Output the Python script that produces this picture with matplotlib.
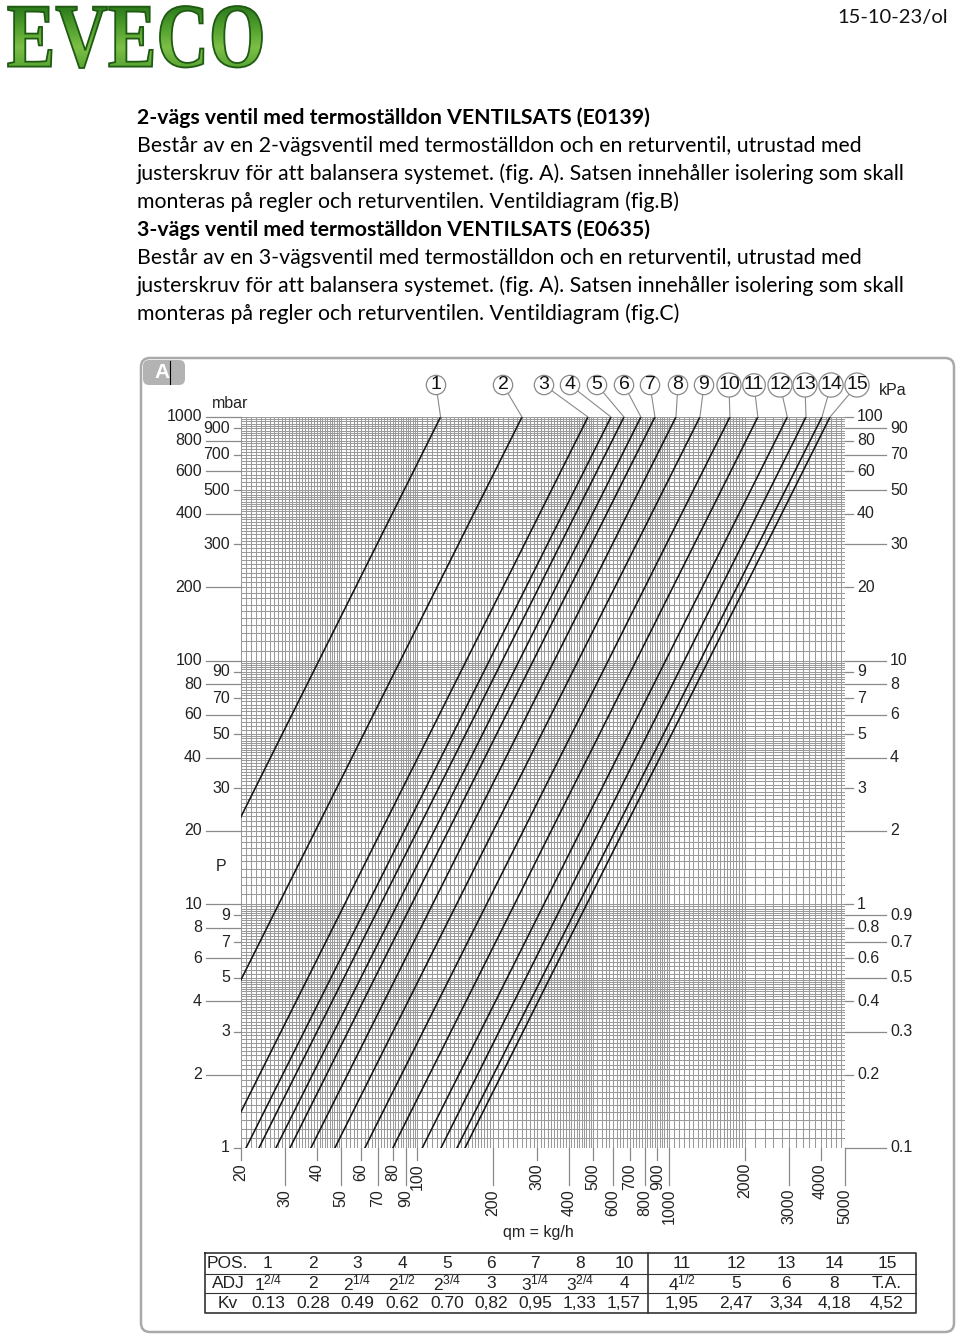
import numpy as np
import matplotlib
matplotlib.use("Agg")
import matplotlib.pyplot as plt
import matplotlib.transforms as mtransforms
from matplotlib.textpath import TextPath
from matplotlib.font_manager import FontProperties
from matplotlib.patches import PathPatch, FancyBboxPatch
from matplotlib.colors import LinearSegmentedColormap

plt.rcParams['font.family'] = ['Liberation Sans', 'DejaVu Sans']
plt.rcParams['mathtext.fontset'] = 'custom'
plt.rcParams['mathtext.rm'] = 'Liberation Sans'
plt.rcParams['mathtext.it'] = 'Liberation Sans'
plt.rcParams['mathtext.bf'] = 'Liberation Sans:bold'

# ---------------- data ----------------
date_text = "15-10-23/ol"
body_lines = [
    ("2-vägs ventil med termoställdon VENTILSATS (E0139)", True),
    ("Består av en 2-vägsventil med termoställdon och en returventil, utrustad med", False),
    ("justerskruv för att balansera systemet. (fig. A). Satsen innehåller isolering som skall", False),
    ("monteras på regler och returventilen. Ventildiagram (fig.B)", False),
    ("3-vägs ventil med termoställdon VENTILSATS (E0635)", True),
    ("Består av en 3-vägsventil med termoställdon och en returventil, utrustad med", False),
    ("justerskruv för att balansera systemet. (fig. A). Satsen innehåller isolering som skall", False),
    ("monteras på regler och returventilen. Ventildiagram (fig.C)", False),
]

# line numbers and flow (kg/h) read where each line meets the 1000 mbar edge
line_ids = ['1', '2', '3', '4', '5', '6', '7', '8', '9', '10', '11', '12', '13', '14', '15']
line_qm_at_1000mbar = [124, 261, 477, 589, 663, 774, 880, 1066, 1327, 1746, 2254, 2950, 3500, 4050, 4360]
line_slope_exponent = 2.07   # dp ~ qm^n, as read from the drawn slope

x_ticks_upper = [20, 40, 60, 80, 100, 300, 500, 700, 900, 2000, 4000]
x_ticks_lower = [30, 50, 70, 90, 200, 400, 600, 800, 1000, 3000, 5000]
mbar_outer = [1000, 800, 600, 400, 200, 100, 80, 60, 40, 20, 10, 8, 6, 4, 2]
mbar_inner = [900, 700, 500, 300, 90, 70, 50, 30, 9, 7, 5, 3, 1]
kpa_inner = [100, 80, 60, 40, 20, 9, 7, 5, 3, 1, 0.8, 0.6, 0.4, 0.2]
kpa_outer = [90, 70, 50, 30, 10, 8, 6, 4, 2, 0.9, 0.7, 0.5, 0.3, 0.1]

table_pos = ['1', '2', '3', '4', '5', '6', '7', '8', '10', '11', '12', '13', '14', '15']
table_adj = [r'$\mathregular{1^{2/4}}$', '2', r'$\mathregular{2^{1/4}}$', r'$\mathregular{2^{1/2}}$',
             r'$\mathregular{2^{3/4}}$', '3', r'$\mathregular{3^{1/4}}$', r'$\mathregular{3^{2/4}}$',
             '4', r'$\mathregular{4^{1/2}}$', '5', '6', '8', 'T.A.']
table_kv = ['0.13', '0.28', '0.49', '0.62', '0.70', '0,82', '0,95', '1,33', '1,57',
            '1,95', '2,47', '3,34', '4,18', '4,52']

# grid subdivisions (start, stop, step)
xgrid_spec = [(20, 50, 1), (50, 100, 2), (100, 200, 5), (200, 500, 10), (500, 1000, 20),
              (1000, 2000, 50), (2000, 5001, 200)]
ygrid_spec = [(1, 5, 0.1), (5, 10, 0.2), (10, 50, 1), (50, 100, 2),
              (100, 500, 10), (500, 1001, 20)]

# ---------------- figure ----------------
W, H = 960, 1336
fig = plt.figure(figsize=(W / 100, H / 100), dpi=100)
fig.patch.set_facecolor('white')
ov = fig.add_axes([0, 0, 1, 1])
ov.set_xlim(0, W)
ov.set_ylim(H, 0)
ov.axis('off')

# logo
tp = TextPath((0, 0), "EVECO", size=100,
              prop=FontProperties(family='Liberation Serif', weight='bold'))
bb = tp.get_extents()
lx0, lx1, ly0, ly1 = 8, 262, 6, 68
sx = (lx1 - lx0) / bb.width
sy = (ly1 - ly0) / bb.height
tr = (mtransforms.Affine2D().translate(-bb.x0, -bb.y0).scale(sx, -sy)
      .translate(lx0, ly1) + ov.transData)
logo_patch = PathPatch(tp, transform=tr, facecolor='none', edgecolor='#1f5a12', lw=1.3, zorder=3)
ov.add_patch(logo_patch)
cmap = LinearSegmentedColormap.from_list('g', ['#2c7a1c', '#4f9e2c', '#7cbf46', '#5aa634'])
grad = np.linspace(0, 1, 64).reshape(-1, 1)
im = ov.imshow(grad, extent=(lx0, lx1, ly1, ly0), cmap=cmap, aspect='auto', zorder=2)
im.set_clip_path(logo_patch)
ov.set_xlim(0, W)
ov.set_ylim(H, 0)

# date
ov.text(948, 17, date_text, ha='right', va='center', fontsize=14.5, family='Lato', color='#111')

# body text, width fitted to the reference line width
renderer = fig.canvas.get_renderer()
probe = ov.text(137, 146, body_lines[1][0], fontsize=14, family='Lato')
wpx = probe.get_window_extent(renderer).width
probe.remove()
body_fs = 14 * (860 - 137) / wpx
for i, (txt, bold) in enumerate(body_lines):
    ov.text(137, 118 + 28 * i, txt, ha='left', va='center', fontsize=body_fs,
            family='Lato', weight='bold' if bold else 'normal', color='black')

# chart frame and tab
ov.add_patch(FancyBboxPatch((141, 358), 813, 974, boxstyle='round,pad=0,rounding_size=9',
                            fc='none', ec='#a9a9a9', lw=1.8))
ov.add_patch(FancyBboxPatch((143, 360), 42, 25, boxstyle='round,pad=0,rounding_size=6',
                            fc='#b3b3b3', ec='none'))
ov.text(162, 373, 'A', ha='center', va='center', color='white', fontsize=15, weight='bold')
ov.plot([170, 170], [361, 384], color='black', lw=0.8)

# ---------------- chart ----------------
left, right, top, bottom = 241, 845, 417, 1148
ax = fig.add_axes([left / W, 1 - bottom / H, (right - left) / W, (bottom - top) / H])
ax.set_xscale('log')
ax.set_yscale('log')
ax.set_xlim(20, 5000)
ax.set_ylim(1, 1000)
for s in ax.spines.values():
    s.set_visible(False)
ax.set_xticks([])
ax.set_yticks([])
ax.minorticks_off()
ax.patch.set_alpha(0)

gc = '#9a9a9a'
vx = np.concatenate([np.arange(a, b, s) for a, b, s in xgrid_spec])
hy = np.concatenate([np.arange(a, b, s) for a, b, s in ygrid_spec])
ax.vlines(vx, 1, 1000, color=gc, lw=0.75, zorder=1)
ax.hlines(hy, 20, 5000, color=gc, lw=0.75, zorder=1)

dp_span = np.array([1.0, 1000.0])
for qm1 in line_qm_at_1000mbar:
    ax.plot(qm1 * (dp_span / 1000.0) ** (1.0 / line_slope_exponent), dp_span,
            color='#151515', lw=1.15, zorder=3)

tc = '#8a8a8a'
lc = '#222222'
fs = 11.5
ylt = ax.get_yaxis_transform()   # x axes-frac, y data
xlt = ax.get_xaxis_transform()   # x data, y axes-frac
pw = right - left
ph = bottom - top

for v in mbar_outer:
    ax.plot([(206 - left) / pw, 0], [v, v], transform=ylt, color=tc, lw=0.9, clip_on=False)
    ax.text((202 - left) / pw, v, f'{v:g}', transform=ylt, ha='right', va='center', fontsize=fs, color=lc)
for v in mbar_inner:
    ax.plot([(234 - left) / pw, 0], [v, v], transform=ylt, color=tc, lw=0.9, clip_on=False)
    ax.text((230 - left) / pw, v, f'{v:g}', transform=ylt, ha='right', va='center', fontsize=fs, color=lc)
for v in kpa_inner:
    ax.plot([1, (853 - left) / pw], [v * 10, v * 10], transform=ylt, color=tc, lw=0.9, clip_on=False)
    ax.text((857 - left) / pw, v * 10, f'{v:g}', transform=ylt, ha='left', va='center', fontsize=fs, color=lc)
for v in kpa_outer:
    ax.plot([1, (886 - left) / pw], [v * 10, v * 10], transform=ylt, color=tc, lw=0.9, clip_on=False)
    ax.text((890 - left) / pw, v * 10, f'{v:g}', transform=ylt, ha='left', va='center', fontsize=fs, color=lc)

for v in x_ticks_upper:
    ax.plot([v, v], [0, -(1160 - bottom) / ph], transform=xlt, color=tc, lw=0.9, clip_on=False)
    ax.text(v, -(1163 - bottom) / ph, f'{v}', transform=xlt, rotation=90, ha='center', va='top',
            fontsize=fs, color=lc)
for v in x_ticks_lower:
    ax.plot([v, v], [0, -(1185 - bottom) / ph], transform=xlt, color=tc, lw=0.9, clip_on=False)
    ax.text(v, -(1189 - bottom) / ph, f'{v}', transform=xlt, rotation=90, ha='center', va='top',
            fontsize=fs, color=lc)

ax.text((230 - left) / pw, (bottom - 403) / ph, 'mbar', transform=ax.transAxes, ha='center',
        va='center', fontsize=fs, color=lc)
ax.text((221 - left) / pw, (bottom - 867) / ph, 'P', transform=ax.transAxes, ha='center',
        va='center', fontsize=fs, color=lc)
ax.text((893 - left) / pw, (bottom - 391) / ph, 'kPa', transform=ax.transAxes, ha='center',
        va='center', fontsize=fs, color=lc)
ax.text((538 - left) / pw, (bottom - 1232) / ph, 'qm = kg/h', transform=ax.transAxes, ha='center',
        va='center', fontsize=fs, color=lc)

# numbered callouts
circle_px = [436, 503, 544, 570, 597, 624, 650, 678, 704, 729, 754, 780, 805, 831, 857]
for lid, qm1, cx in zip(line_ids, line_qm_at_1000mbar, circle_px):
    ax.annotate(lid, xy=(qm1, 1000), xycoords='data',
                xytext=((cx - left) / pw, (bottom - 385) / ph), textcoords='axes fraction',
                ha='center', va='center', fontsize=14, color='#111',
                bbox=dict(boxstyle='circle,pad=0.06', fc='white', ec='#8a8a8a', lw=0.9),
                arrowprops=dict(arrowstyle='-', color='#8a8a8a', lw=0.8, shrinkA=0, shrinkB=0),
                annotation_clip=False, zorder=4)

# ---------------- table ----------------
tx0, tx1, ty0, ty1 = 205, 916, 1253, 1313
ov.plot([tx0, tx1, tx1, tx0, tx0], [ty0, ty0, ty1, ty1, ty0], color='#333', lw=1.2)
ov.plot([tx0, tx1], [1274, 1274], color='#333', lw=0.8)
ov.plot([tx0, tx1], [1293, 1293], color='#333', lw=0.8)
ov.plot([648, 648], [ty0, ty1], color='#333', lw=1.2)
col_cx = [268, 313, 357, 402, 447, 491, 535, 580, 624, 682, 736, 786, 834, 887]
row_y = [1264, 1283, 1303]
tfs = 12.5
ov.text(207, row_y[0], 'POS.', ha='left', va='center', fontsize=tfs, color='#222')
ov.text(212, row_y[1], 'ADJ', ha='left', va='center', fontsize=tfs, color='#222')
ov.text(218, row_y[2], 'Kv', ha='left', va='center', fontsize=tfs, color='#222')
for cx, p, a, k in zip(col_cx, table_pos, table_adj, table_kv):
    ov.text(cx, row_y[0], p, ha='center', va='center', fontsize=tfs, color='#222')
    ov.text(cx, row_y[1], a, ha='center', va='center', fontsize=tfs, color='#222')
    ov.text(cx, row_y[2], k, ha='center', va='center', fontsize=tfs, color='#222')

fig.savefig('out.png', dpi=100, facecolor='white')
